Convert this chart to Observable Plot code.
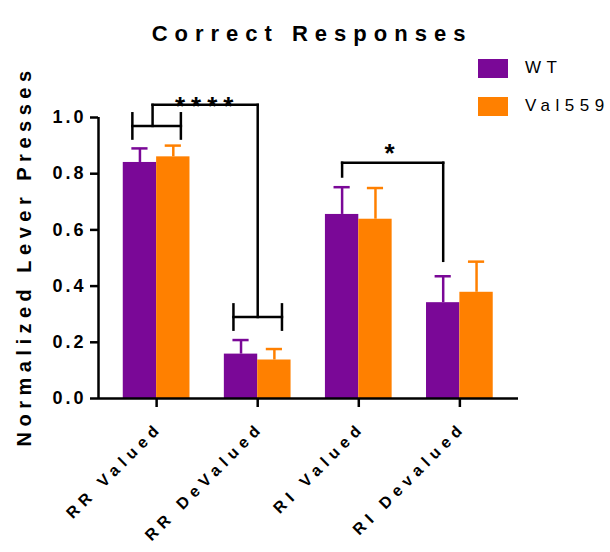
<!DOCTYPE html>
<html><head><meta charset="utf-8">
<script src="https://cdn.jsdelivr.net/npm/d3@7"></script>
<script src="https://cdn.jsdelivr.net/npm/@observablehq/plot@0.6"></script>
<style>
body{margin:0;background:#fff}
#wrap{position:relative;width:610px;height:552px}
svg{font-family:"Liberation Sans",Arial,sans-serif}
g[aria-label="y-axis tick label"] text{letter-spacing:3px}
.legend{position:absolute;left:478px;font-family:"Liberation Sans",Arial,sans-serif;font-size:17px;letter-spacing:5.5px;display:flex;align-items:center;white-space:nowrap}
.legend span.sw{display:inline-block;width:30px;height:19px;margin-right:17px}
</style></head><body><div id="wrap"></div>
<script>
const categories = ["RR Valued", "RR DeValued", "RI Valued", "RI Devalued"];
const series = ["WT", "Val559"];
const wtMean = [0.840, 0.158, 0.655, 0.341];
const wtSem  = [0.050, 0.050, 0.097, 0.094];
const valMean = [0.860, 0.137, 0.638, 0.378];
const valSem  = [0.040, 0.039, 0.111, 0.109];
const yTicks = [0, 0.2, 0.4, 0.6, 0.8, 1.0];
const colors = ["#7a0897", "#ff8000"];
const titleText = "Correct Responses";
const yLabel = "Normalized Lever Presses";
// significance annotations
const groupBracketLevels = [0.97, 0.29];   // bars spanning both genotypes of RR Valued / RR DeValued
const linkLevel = 1.045;                   // **** connector
const starBracket = {from: 2, to: 3, level: 0.839, dropFrom: 0.79, dropTo: 0.49}; // WT RI Valued vs WT RI Devalued
const sigLabels = ["****", "*"];
const sigLabelLevels = [1.062, 0.895];

const bw = 0.33; // bar width in category units
const rows = [];
categories.forEach((c, i) => {
  rows.push({cat: c, i, s: series[0], x1: i - bw, x2: i, cx: i - bw / 2, v: wtMean[i], top: wtMean[i] + wtSem[i], color: colors[0]});
  rows.push({cat: c, i, s: series[1], x1: i, x2: i + bw, cx: i + bw / 2, v: valMean[i], top: valMean[i] + valSem[i], color: colors[1]});
});

const hw = 0.24, tk = 0.045;
const segs = [];
groupBracketLevels.forEach((lv, g) => {
  segs.push({x1: g - hw, x2: g + hw, y1: lv, y2: lv});
  segs.push({x1: g - hw, x2: g - hw, y1: lv - tk, y2: lv + tk});
  segs.push({x1: g + hw, x2: g + hw, y1: lv - tk, y2: lv + tk});
});
segs.push({x1: -0.04, x2: -0.04, y1: groupBracketLevels[0], y2: linkLevel});
segs.push({x1: -0.04, x2: 1, y1: linkLevel, y2: linkLevel});
segs.push({x1: 1, x2: 1, y1: linkLevel, y2: groupBracketLevels[1]});
const bL = starBracket.from - bw / 2, bR = starBracket.to - bw / 2;
segs.push({x1: bL, x2: bL, y1: starBracket.dropFrom, y2: starBracket.level});
segs.push({x1: bL, x2: bR, y1: starBracket.level, y2: starBracket.level});
segs.push({x1: bR, x2: bR, y1: starBracket.level, y2: starBracket.dropTo});
const stars = [
  {x: 0.5, y: sigLabelLevels[0], t: sigLabels[0]},
  {x: (bL + bR) / 2, y: sigLabelLevels[1], t: sigLabels[1]}
];

const chart = Plot.plot({
  width: 610, height: 552,
  marginLeft: 98, marginRight: 92, marginTop: 117, marginBottom: 154,
  x: {domain: [-0.575, 3.58], axis: null},
  y: {domain: [0, 1], axis: null},
  marks: [
    Plot.rect(rows, {x1: "x1", x2: "x2", y1: () => 0, y2: "v", fill: "color"}),
    Plot.ruleX(rows, {x: "cx", y1: "v", y2: "top", stroke: "color", strokeWidth: 2.5}),
    Plot.ruleY(rows, {y: "top", x1: d => d.cx - 0.08, x2: d => d.cx + 0.08, stroke: "color", strokeWidth: 2.5}),
    Plot.link(segs, {x1: "x1", x2: "x2", y1: "y1", y2: "y2", stroke: "black", strokeWidth: 2.5, strokeLinecap: "square"}),
    Plot.text(stars, {x: "x", y: "y", text: "t", dy: 7, fontSize: 26, fontWeight: "bold"}),
    Plot.ruleY([0], {stroke: "black", strokeWidth: 2.5}),
    Plot.ruleX([-0.575], {stroke: "black", strokeWidth: 2.5}),
    Plot.axisY({ticks: yTicks, tickFormat: d3.format(".1f"), tickSize: 8, tickPadding: 4, fontSize: 18, fontWeight: "bold", strokeWidth: 2.5, label: null}),
    Plot.axisX({ticks: [0, 1, 2, 3], tickFormat: () => "", tickSize: 9, strokeWidth: 2.5, label: null}),
    Plot.text(categories, {x: (d, i) => i, y: () => 0, text: d => d, rotate: -45, textAnchor: "end", lineAnchor: "bottom", dx: 7, dy: 30, fontSize: 16, fontWeight: "bold"}),
    Plot.text([titleText], {frameAnchor: "top", textAnchor: "middle", dy: -92, dx: 3.5, fontSize: 22, fontWeight: "bold"}),
    Plot.text([yLabel], {frameAnchor: "left", textAnchor: "middle", rotate: -90, dx: -74, dy: -2, fontSize: 20, fontWeight: "bold"})
  ]
});
const spacing = new Map([[titleText, 7], [yLabel, 5.5], [sigLabels[0], 6], [sigLabels[1], 6]]);
categories.forEach(c => spacing.set(c, 5.5));
d3.select(chart).selectAll("text").each(function() {
  const ls = spacing.get(this.textContent);
  if (ls != null) this.style.letterSpacing = ls + "px";
});
const wrap = document.getElementById("wrap");
wrap.appendChild(chart);
const legendTops = [58, 96];
series.forEach((s, k) => {
  const div = document.createElement("div");
  div.className = "legend";
  div.style.top = legendTops[k] + "px";
  div.innerHTML = `<span class="sw" style="background:${colors[k]}"></span><span>${s.slice(0, -1)}<span style="letter-spacing:0">${s.slice(-1)}</span></span>`;
  wrap.appendChild(div);
});
</script></body></html>
